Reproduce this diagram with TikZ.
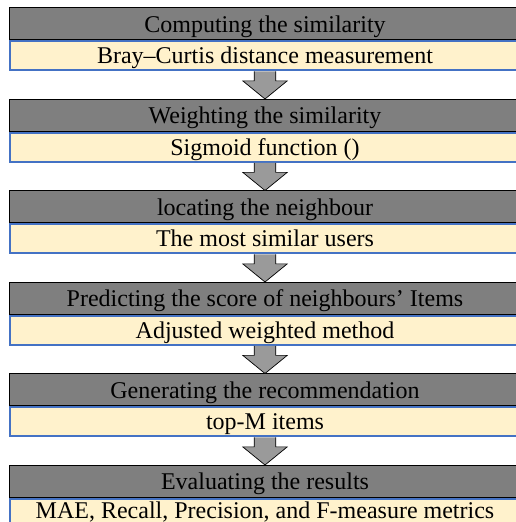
\documentclass[tikz,border=0pt]{standalone}
\usepackage{fontspec}
\setmainfont{Liberation Serif}
\usetikzlibrary{calc}
\definecolor{boxgray}{HTML}{7F7F7F}
\definecolor{arrowgray}{HTML}{9A9A9A}
\definecolor{paleyellow}{HTML}{FFF2CC}
\definecolor{edgeblue}{HTML}{4472C4}
\tikzset{
  stagebox/.style={draw=black, line width=0.9pt, fill=boxgray, minimum width=511pt, minimum height=32pt,
    inner sep=0pt, text height=19pt, text depth=2.5pt, font=\fontsize{24}{28}\selectfont},
  methodbox/.style={draw=edgeblue, line width=2pt, fill=paleyellow, minimum width=511pt, minimum height=29pt,
    inner sep=0pt, text height=19pt, text depth=3pt, font=\fontsize{24}{28}\selectfont},
  flowarrow/.style={draw=black, line width=0.7pt, fill=arrowgray, line join=miter}
}
\begin{document}
\begin{tikzpicture}[x=1pt,y=1pt]
\useasboundingbox (0,0) rectangle (516,522);
\clip (0,0) rectangle (516,522);
% boxes
\foreach \i/\top/\bot in {0/Computing the similarity/Bray--Curtis distance measurement,
  1/Weighting the similarity/Sigmoid function (),
  2/locating the neighbour/The most similar users,
  3/Predicting the score of neighbours’ Items/Adjusted weighted method,
  4/Generating the recommendation/top-M items}{
  \node[stagebox, anchor=north] (g\i) at (265,{522-7.5-91.5*\i}) {\top};
  \node[methodbox, anchor=north] (y\i) at (g\i.south) {\bot};
}
\node[stagebox, anchor=north] (g5) at (265,{522-7.5-91.5*5}) {Evaluating the results};
\node[methodbox, anchor=north] (y5) at (g5.south) {};
\node[anchor=base, inner sep=0pt, font=\fontsize{24}{28}\selectfont] (t5) at ($(g5.south)+(0,-20.5)$)
  {MAE, Recall, Precision, and F-measure metrics};
% arrows
\foreach \i [evaluate=\i as \j using int(\i+1)] in {0,...,4}{
  \path (y\i.south) coordinate (a\i) (g\j.north) coordinate (b\i);
  \draw[flowarrow] ($(a\i)+(-10.8,0)$) -- ($(a\i)+(-10.8,-9.5)$) -- ($(a\i)+(-22.2,-9.5)$) -- (b\i)
     -- ($(a\i)+(22.2,-9.5)$) -- ($(a\i)+(10.8,-9.5)$) -- ($(a\i)+(10.8,0)$);
}
\end{tikzpicture}
\end{document}
